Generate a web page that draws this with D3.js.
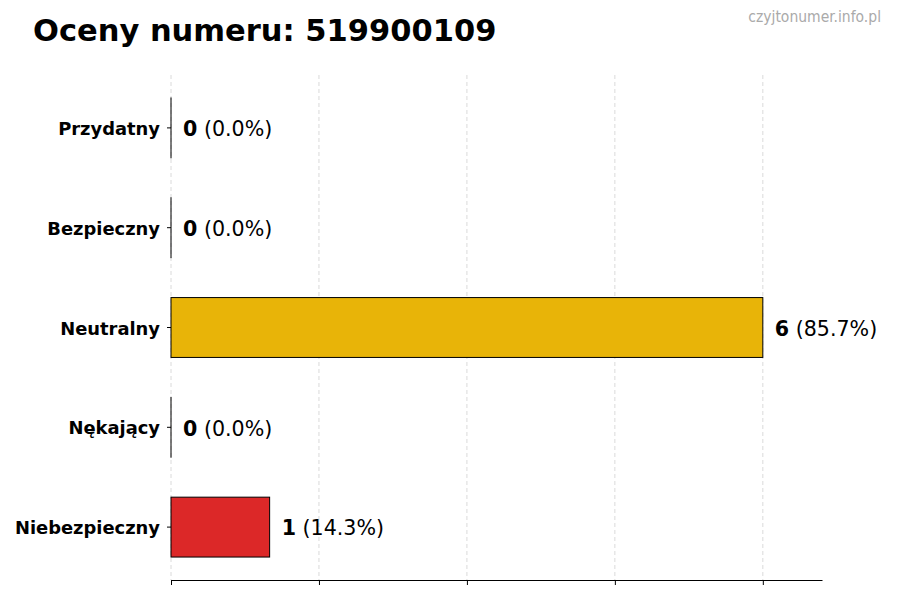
<!DOCTYPE html>
<html lang="pl">
<head>
<meta charset="UTF-8">
<title>Oceny numeru</title>
<script src="https://d3js.org/d3.v7.min.js"></script>
<style>
  body { margin: 0; background: #fff; }
  svg { font-family: "DejaVu Sans", sans-serif; }
</style>
</head>
<body>
<div id="chart"></div>
<script>
// data
const categories = ["Przydatny", "Bezpieczny", "Neutralny", "Nękający", "Niebezpieczny"];
const counts = [0, 0, 6, 0, 1];
const percents = ["0.0%", "0.0%", "85.7%", "0.0%", "14.3%"];
const barColors = ["#2ca02c", "#1f77b4", "#e8b408", "#ff7f0e", "#dc2828"];
const xTicks = [0, 1.5, 3, 4.5, 6];

const svgWidth = 900, svgHeight = 600;
const margin = { top: 75, right: 78, bottom: 20, left: 171 };
const width = svgWidth - margin.left - margin.right;
const height = svgHeight - margin.top - margin.bottom;

const root = d3.select("#chart").append("svg")
    .attr("width", svgWidth)
    .attr("height", svgHeight);

// title + watermark
root.append("text")
    .attr("x", 33).attr("y", 41)
    .attr("font-size", 30.5).attr("font-weight", "bold")
    .attr("fill", "#000")
    .text("Oceny numeru: 519900109");

root.append("text")
    .attr("x", 881).attr("y", 22)
    .attr("text-anchor", "end")
    .attr("font-size", 15.5)
    .attr("font-stretch", "condensed")
    .attr("fill", "#aaaaaa")
    .text("czyjtonumer.info.pl");

const svg = root.append("g")
    .attr("transform", `translate(${margin.left},${margin.top})`);

const x = d3.scaleLinear().domain([0, 6.6]).range([0, width]);
const y = d3.scaleBand().domain(categories).range([0, height])
    .paddingInner(0.4).paddingOuter(0.23);

// grid
svg.append("g").selectAll("line")
    .data(xTicks)
    .join("line")
    .attr("x1", d => x(d)).attr("x2", d => x(d))
    .attr("y1", 0).attr("y2", height)
    .attr("stroke", "#d0d0d0")
    .attr("stroke-width", 0.8)
    .attr("stroke-dasharray", "4,3");

// bars (zero-width bars still show their edge)
svg.append("g").selectAll("rect")
    .data(categories)
    .join("rect")
    .attr("x", x(0))
    .attr("y", d => y(d))
    .attr("width", (d, i) => Math.max(x(counts[i]) - x(0), 0.01))
    .attr("height", y.bandwidth())
    .attr("fill", (d, i) => barColors[i])
    .attr("stroke", "#000")
    .attr("stroke-width", 1);

// value labels
const labels = svg.append("g").selectAll("text")
    .data(categories)
    .join("text")
    .attr("x", (d, i) => x(counts[i]) + 12)
    .attr("y", d => y(d) + y.bandwidth() / 2 + 1)
    .attr("dy", "0.35em")
    .attr("font-size", 20.6)
    .attr("fill", "#000");
labels.append("tspan").attr("font-weight", "bold").text((d, i) => counts[i]);
labels.append("tspan").text((d, i) => ` (${percents[i]})`);

// x axis
const xAxis = svg.append("g")
    .attr("transform", `translate(0,${height})`)
    .call(d3.axisBottom(x).tickValues(xTicks).tickFormat("").tickSize(5).tickSizeOuter(0));
xAxis.select(".domain").attr("stroke", "#000").attr("stroke-width", 1.2);
xAxis.selectAll(".tick line").attr("stroke", "#000");

// y axis (ticks and labels only)
const yAxis = svg.append("g")
    .call(d3.axisLeft(y).tickSize(4).tickPadding(7));
yAxis.select(".domain").remove();
yAxis.selectAll(".tick line").attr("stroke", "#000");
yAxis.selectAll(".tick text")
    .attr("font-size", 17.9)
    .attr("font-weight", "bold")
    .attr("font-family", "DejaVu Sans, sans-serif")
    .attr("fill", "#000")
    .attr("dy", "0.4em");
</script>
</body>
</html>
